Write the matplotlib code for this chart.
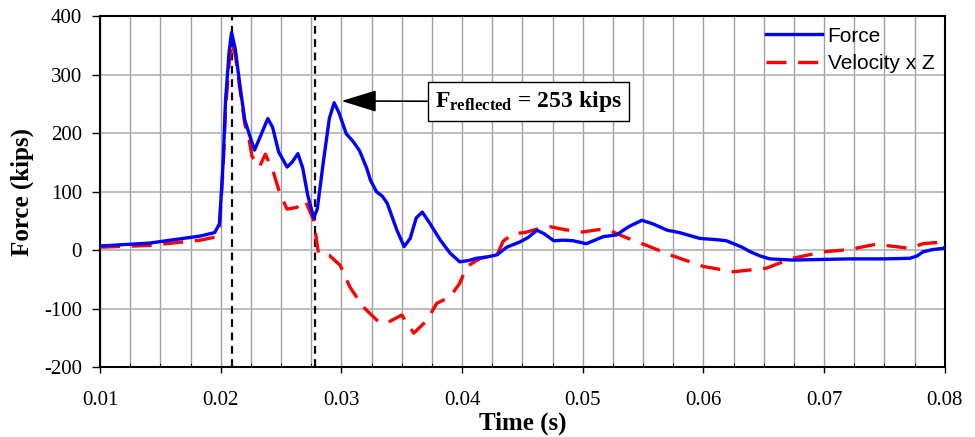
import matplotlib.pyplot as plt
import matplotlib.ticker as mticker

plt.rcParams['font.family'] = ['Liberation Serif', 'DejaVu Serif']
plt.rcParams['mathtext.fontset'] = 'custom'
plt.rcParams['mathtext.rm'] = 'Liberation Serif'
plt.rcParams['mathtext.bf'] = 'Liberation Serif:bold'
plt.rcParams['axes.unicode_minus'] = False

# force trace (kips) vs time (s)
t_force = [0.0100, 0.0141, 0.0183, 0.0195, 0.0199, 0.0202, 0.0204, 0.0207, 0.0209, 0.0212,
           0.0216, 0.0220, 0.0224, 0.0228, 0.0233, 0.0239, 0.0243, 0.0248, 0.0255, 0.0259,
           0.0264, 0.0268, 0.0272, 0.0277, 0.0280, 0.0285, 0.0290, 0.0294, 0.0298, 0.0304,
           0.0310, 0.0315, 0.0321, 0.0324, 0.0329, 0.0334, 0.0338, 0.0346, 0.0352, 0.0357,
           0.0362, 0.0367, 0.0372, 0.0382, 0.0390, 0.0398, 0.0405, 0.0412, 0.0420, 0.0429,
           0.0437, 0.0448, 0.0455, 0.0462, 0.0468, 0.0476, 0.0484, 0.0492, 0.0503, 0.0510,
           0.0517, 0.0528, 0.0538, 0.0549, 0.0558, 0.0570, 0.0580, 0.0597, 0.0610, 0.0619,
           0.0625, 0.0632, 0.0639, 0.0647, 0.0655, 0.0674, 0.0721, 0.0750, 0.0771, 0.0777,
           0.0782, 0.0790, 0.0799, 0.0800]
force = [7, 12, 24, 30, 45, 150, 256, 340, 372, 345,
         280, 222, 196, 171, 195, 225, 210, 168, 142, 150,
         165, 140, 95, 55, 70, 150, 225, 252, 235, 199,
         185, 170, 140, 120, 100, 92, 80, 34, 6, 20,
         55, 65, 50, 17, -5, -20, -18, -14, -12, -8,
         5, 14, 22, 34, 28, 16, 17, 16, 11, 17,
         23, 26, 40, 51, 45, 34, 30, 20, 18, 16,
         11, 5, -3, -10, -15, -17, -15, -15, -14, -10,
         -3, 1, 3, 5]

# velocity x impedance trace
t_vel = [0.0100, 0.0141, 0.0183, 0.0195, 0.0199, 0.0202, 0.0204, 0.0207, 0.0209, 0.0212,
         0.0216, 0.0220, 0.0223, 0.0226, 0.0232, 0.0237, 0.0244, 0.0249, 0.0255, 0.0263,
         0.0270, 0.0277, 0.0281, 0.0290, 0.0299, 0.0307, 0.0318, 0.0332, 0.0340, 0.0350,
         0.0360, 0.0371, 0.0379, 0.0390, 0.0398, 0.0404, 0.0415, 0.0429, 0.0434, 0.0442,
         0.0452, 0.0464, 0.0473, 0.0485, 0.0500, 0.0513, 0.0522, 0.0534, 0.0553, 0.0572,
         0.0600, 0.0625, 0.0652, 0.0666, 0.0674, 0.0699, 0.0721, 0.0743, 0.0771, 0.0782,
         0.0799, 0.0800]
vel_z = [5, 8, 17, 22, 40, 140, 240, 320, 356, 335,
         275, 215, 195, 160, 142, 164, 131, 97, 70, 73,
         85, 51, -6, -9, -26, -63, -97, -125, -122, -111,
         -142, -120, -91, -80, -57, -28, -14, -8, 15, 28,
         30, 37, 40, 35, 31, 35, 34, 23, 8, -8,
         -28, -37, -31, -20, -14, -3, 1, 10, 3, 11,
         14, 14]

t_markers = [0.0209, 0.0278]
f_reflected = 253

fig, ax = plt.subplots(figsize=(9.75, 4.37), dpi=100)
fig.subplots_adjust(left=0.1026, right=0.969, top=0.963, bottom=0.160)

for tm in t_markers:
    ax.axvline(tm, color='black', lw=1.6, ls=(0, (3.5, 2.5)), zorder=3)

ax.plot(t_force, force, color='blue', lw=2.4, label='Force', zorder=5)
ax.plot(t_vel, vel_z, color='red', lw=2.4, dashes=(6, 3.5), label='Velocity x Z', zorder=4)

ax.set_xlim(0.01, 0.08)
ax.set_ylim(-200, 400)
ax.xaxis.set_major_locator(mticker.MultipleLocator(0.01))
ax.xaxis.set_minor_locator(mticker.MultipleLocator(0.0025))
ax.xaxis.set_major_formatter(mticker.FormatStrFormatter('%.2f'))
ax.yaxis.set_major_locator(mticker.MultipleLocator(100))

ax.grid(True, which='minor', axis='x', color='#a0a0a0', lw=1)
ax.grid(True, which='major', axis='x', color='#a0a0a0', lw=1)
ax.grid(True, which='major', axis='y', color='#b0b0b0', lw=1.2)
ax.set_axisbelow(True)

ax.tick_params(axis='both', which='major', labelsize=15, direction='out', width=1)
ax.tick_params(axis='y', which='major', length=6, pad=7)
ax.tick_params(axis='x', which='major', length=4, pad=13)
ax.tick_params(axis='x', which='minor', direction='in', length=3)
for s in ax.spines.values():
    s.set_linewidth(1.5)

ax.set_xlabel('Time (s)', fontsize=18, fontweight='bold', labelpad=1)
ax.set_ylabel('Force (kips)', fontsize=18, fontweight='bold', labelpad=7)

ax.annotate(r'$\mathbf{F_{reflected}}$ = ' + f'{f_reflected} kips',
            xy=(0.0300, 255), xytext=(0.0455, 254),
            fontsize=17, fontweight='bold', ha='center', va='center',
            bbox=dict(boxstyle='square,pad=0.3', fc='white', ec='black', lw=1),
            arrowprops=dict(arrowstyle='-|>,head_length=1.3,head_width=0.4',
                            color='black', lw=1.2, shrinkA=0, shrinkB=0),
            zorder=6)

leg = ax.legend(loc='upper right', frameon=False,
                prop={'family': ['Liberation Sans', 'DejaVu Sans'], 'size': 15},
                handlelength=2.7, borderaxespad=0.1, labelspacing=0.4, handletextpad=0.25)

fig.savefig('out.png', dpi=100)
